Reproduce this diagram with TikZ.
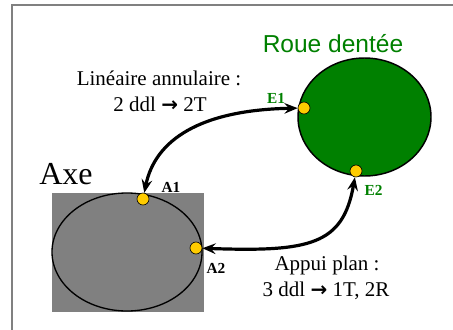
\documentclass[tikz,border=0pt]{standalone}
\usepackage{fontspec}
\setmainfont{Liberation Serif}
\newfontfamily\arialfont{Liberation Sans}
\newfontfamily\arrowfont{DejaVu Sans}
\newcommand{\myarr}{{\arrowfont\bfseries\fontsize{15}{18}\selectfont →}}
\usetikzlibrary{shapes.geometric,arrows.meta}
\definecolor{gearg}{RGB}{0,128,0}
\definecolor{axeg}{RGB}{128,128,128}
\definecolor{doty}{RGB}{255,204,0}
\tikzset{
  pt/.style={circle,draw=black,line width=0.5pt,fill=doty,minimum size=9pt,inner sep=0pt},
  lbl/.style={font=\fontsize{11.5}{13}\selectfont\bfseries,inner sep=0pt},
  txt/.style={font=\fontsize{15.75}{19.5}\selectfont,align=center,inner sep=0pt},
  link/.style={line width=2.4pt,{Stealth[length=10pt,width=8pt,inset=3.5pt]}-{Stealth[length=10pt,width=8pt,inset=3.5pt]}}
}
\begin{document}
\begin{tikzpicture}[x=0.75pt,y=-0.75pt]
\useasboundingbox (0,0) rectangle (453,329);
% frame
\draw[axeg,line width=0.9pt] (12,340) -- (12,5) -- (460,5);
% axe
\fill[axeg] (52,193) rectangle (204,312);
\node[ellipse,draw=black,line width=1pt,minimum width=112.5pt,minimum height=88.5pt,inner sep=0pt] (axe) at (127,252) {};
\node[font=\fontsize{24}{28}\selectfont,anchor=base,inner sep=0pt] (axelbl) at (66,184) {Axe};
% wheel
\node[ellipse,draw=black,fill=gearg,line width=1.1pt,minimum width=99.75pt,minimum height=88.5pt,inner sep=0pt] (roue) at (364.5,117) {};
\node[font=\arialfont\fontsize{18.4}{22}\selectfont,text=gearg,anchor=base,inner sep=0pt] (rouelbl) at (333,52.5) {Roue dentée};
% points
\node[pt] (A1) at (143,199) {};
\node[pt] (A2) at (196,248) {};
\node[pt] (E1) at (304,108) {};
\node[pt] (E2) at (356,171) {};
\node[lbl] (A1l) at (171,187) {A1};
\node[lbl] (A2l) at (216,268.5) {A2};
\node[lbl,text=gearg] (E1l) at (276,98.5) {E1};
\node[lbl,text=gearg] (E2l) at (373.5,190.5) {E2};
% links
\draw[link] (A1) .. controls (155,140) and (200,110) .. (E1);
\draw[link] (A2) .. controls (310,252) and (343,245) .. (E2);
% texts
\node[txt,anchor=base] (t1) at (159,85) {Linéaire annulaire :};
\node[txt,anchor=base] (t2) at (160,111.5) {2 ddl \myarr\ 2T};
\node[txt,anchor=base] (t3) at (327,270) {Appui plan :};
\node[txt,anchor=base] (t4) at (326,296.5) {3 ddl \myarr\ 1T, 2R};
\end{tikzpicture}
\end{document}
